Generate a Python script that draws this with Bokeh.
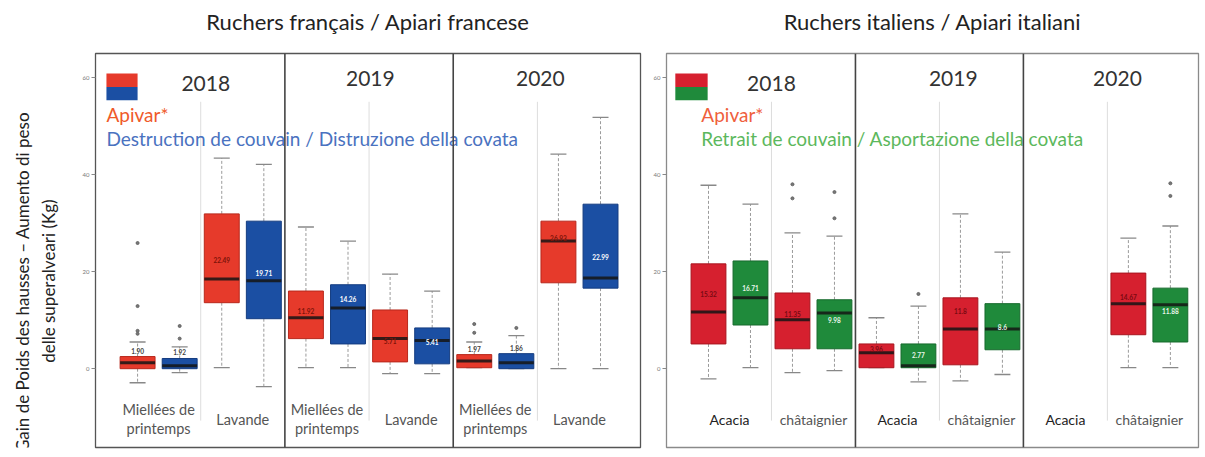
import math
from bokeh.plotting import figure
from bokeh.models import Range1d, Span, FixedTicker, ColumnDataSource, Title
from bokeh.layouts import row
from bokeh.core.properties import value
from bokeh.embed import file_html
from bokeh.resources import INLINE

FONT = value("Lato")

# ---------------- data ----------------
years = ["2018", "2019", "2020"]
fr_groups = ["Miellées de\nprintemps", "Lavande"]
it_groups = ["Acacia", "châtaignier"]
y_ticks = [0, 20, 40, 60]

# French apiaries: per year -> (spring: Apivar, brood destruction), (lavender: Apivar, brood destruction)
fr_q1 = [0.0, 0.0, 13.6, 10.3, 6.2, 5.1, 1.4, 1.0, 0.2, 0.0, 17.7, 16.6]
fr_med = [1.2, 0.6, 18.5, 18.1, 10.5, 12.5, 6.2, 5.8, 1.6, 1.2, 26.3, 18.7]
fr_q3 = [2.5, 2.1, 31.9, 30.4, 16.0, 17.3, 12.1, 8.4, 2.9, 3.1, 30.4, 33.9]
fr_lo = [-2.9, -0.8, 0.2, -3.7, 0.2, 0.2, -1.0, -1.0, 0.2, 0.0, 0.0, 0.0]
fr_hi = [5.5, 4.5, 43.4, 42.1, 29.2, 26.3, 19.5, 16.0, 5.5, 6.8, 44.2, 51.8]
fr_means = ["1.90", "1.92", "22.49", "19.71", "11.92", "14.26", "5.71", "5.41", "1.97", "1.86", "26.93", "22.99"]
fr_out_slot = [0, 0, 0, 0, 1, 1, 8, 8, 9]
fr_out_val = [7.2, 7.8, 12.9, 25.9, 6.2, 8.8, 7.4, 9.2, 8.4]

# Italian apiaries: per year -> (acacia: Apivar, brood removal), (chestnut: Apivar, brood removal)
nan = float("nan")
it_q1 = [5.1, 9.0, 4.1, 4.1, 0.2, 0.2, 0.8, 3.9, nan, nan, 7.0, 5.5]
it_med = [11.7, 14.6, 10.1, 11.5, 3.3, 0.6, 8.2, 8.2, nan, nan, 13.4, 13.2]
it_q3 = [21.6, 22.2, 15.6, 14.2, 5.1, 5.1, 14.6, 13.4, nan, nan, 19.7, 16.6]
it_lo = [-2.1, 0.2, -0.8, -0.4, 0.2, -2.7, -2.5, -1.2, nan, nan, 0.2, 0.2]
it_hi = [37.8, 33.9, 28.0, 27.3, 10.5, 12.9, 31.9, 24.0, nan, nan, 26.9, 29.4]
it_means = ["15.32", "16.71", "11.35", "9.98", "3.96", "2.77", "11.8", "8.6", "", "", "14.67", "11.88"]
it_out_slot = [2, 2, 3, 3, 5, 11, 11]
it_out_val = [38.0, 35.1, 36.4, 31.0, 15.4, 35.6, 38.2]

# ---------------- styles ----------------
FR_FILL = ["#e63a2b", "#1b4fa3"]
FR_LINE = ["#b8281c", "#143c80"]
FR_LABEL = ["#7d1309", "#ffffff"]
IT_FILL = ["#d6202f", "#1f8a3b"]
IT_LINE = ["#a8151f", "#166a2c"]
IT_LABEL = ["#7a0a12", "#e9f6ea"]

Y0, Y1 = -16.24, 64.95
H = 457


def base_fig(width, xr, title, border_left):
    p = figure(width=width, height=H, x_range=Range1d(*xr), y_range=Range1d(Y0, Y1),
               output_backend="svg", toolbar_location=None, x_axis_type=None,
               min_border_left=border_left, min_border_right=2, min_border_top=52,
               min_border_bottom=10)
    # thin spacer panel between frame and title, then the title above it
    p.add_layout(Title(text=" ", text_font_size="2px"), "above")
    p.add_layout(Title(text=title, align="center", text_font="Lato", text_font_size="22px",
                       text_font_style="normal", text_color="#222222"), "above")
    p.xgrid.visible = False
    p.ygrid.visible = False
    p.outline_line_color = "#555555"
    p.outline_line_width = 1.3
    ax = p.yaxis[0]
    ax.ticker = FixedTicker(ticks=y_ticks)
    ax.minor_tick_line_color = None
    ax.major_tick_in = 0
    ax.major_tick_out = 4
    ax.major_tick_line_color = "#888888"
    ax.axis_line_color = None
    ax.major_label_text_font_size = "6px"
    ax.major_label_text_color = "#777777"
    ax.major_label_standoff = 2
    ax.major_label_text_font = "Lato"
    return p


def draw_panel(p, q1, med, q3, lo, hi, means, fills, lines, labcols, out_slot, out_val,
               above_slots=()):
    xs, d = [], {k: [] for k in ["q1", "med", "q3", "lo", "hi", "fill", "line", "lab", "labcol"]}
    for i in range(len(q1)):
        if math.isnan(q1[i]):
            continue
        t = i % 2
        xs.append(i)
        d["q1"].append(q1[i]); d["med"].append(med[i]); d["q3"].append(q3[i])
        d["lo"].append(lo[i]); d["hi"].append(hi[i])
        d["fill"].append(fills[t]); d["line"].append(lines[t])
        d["lab"].append(means[i]); d["labcol"].append(labcols[t])
    src = ColumnDataSource(dict(x=xs, **d,
                                xl=[x - 0.415 for x in xs], xr=[x + 0.415 for x in xs],
                                cl=[x - 0.19 for x in xs], cr=[x + 0.19 for x in xs]))
    # whiskers
    p.segment(x0="x", y0="q3", x1="x", y1="hi", source=src, line_color="#9a9a9a",
              line_dash="3 2", line_width=1)
    p.segment(x0="x", y0="q1", x1="x", y1="lo", source=src, line_color="#9a9a9a",
              line_dash="3 2", line_width=1)
    p.segment(x0="cl", y0="hi", x1="cr", y1="hi", source=src, line_color="#888888", line_width=1.3)
    p.segment(x0="cl", y0="lo", x1="cr", y1="lo", source=src, line_color="#888888", line_width=1.3)
    # boxes
    p.vbar(x="x", width=0.83, bottom="q1", top="q3", source=src, fill_color="fill",
           line_color="line", line_width=1)
    p.segment(x0="xl", y0="med", x1="xr", y1="med", source=src, line_color="#151515",
              line_width=3, line_alpha=0.85)
    # outliers
    p.scatter(out_slot, out_val, marker="circle", size=3, fill_color="#777777",
              line_color="#666666")
    # labels
    inside = [k for k, x in enumerate(xs) if x not in above_slots and src.data["lab"][k]]
    above = [k for k, x in enumerate(xs) if x in above_slots]
    if inside:
        p.text(x=[xs[k] for k in inside], y=[float(src.data["lab"][k]) for k in inside],
               text=[src.data["lab"][k] for k in inside],
               text_color=[src.data["labcol"][k] for k in inside],
               text_font=FONT, text_font_size="6.5px", text_font_style="bold",
               text_align="center", text_baseline="middle")
    if above:
        p.text(x=[xs[k] for k in above], y=[src.data["q3"][k] for k in above],
               text=[src.data["lab"][k] for k in above], text_color="#444444",
               text_font=FONT, text_font_size="6.5px", text_font_style="bold",
               text_align="center", text_baseline="bottom", y_offset=-3)


def decorate(p, groups, group_colors, group_size, year_pos, flag_x, flag_cols, legend_x,
             legend_texts, legend_cols):
    # group separators (light) and year dividers
    p.segment(x0=[1.5, 5.5, 9.5], y0=-10.7, x1=[1.5, 5.5, 9.5], y1=55.0,
              line_color="#dddddd", line_width=1)
    for loc in (3.5, 7.5):
        p.add_layout(Span(location=loc, dimension="height", line_color="#444444",
                          line_width=1.6))
    # group labels under the boxes
    gx = [0.5 + 2 * k for k in range(6)]
    gl = [groups[k % 2] for k in range(6)]
    gc = [group_colors[k % 2] for k in range(6)]
    p.text(x=gx, y=-10.4, text=gl, text_color=gc, text_font=FONT, text_font_size=group_size,
           text_align="center", text_baseline="middle", text_line_height=1.1)
    # years
    p.text(x=[yp[0] for yp in year_pos], y=[yp[1] for yp in year_pos], text=years,
           text_color="#333333", text_font=FONT, text_font_size="21px",
           text_align="center", text_baseline="middle")
    # legend flag
    p.quad(left=flag_x[0], right=flag_x[1], top=60.84, bottom=58.07,
           fill_color=flag_cols[0], line_color=None)
    p.quad(left=flag_x[0], right=flag_x[1], top=58.07, bottom=55.3,
           fill_color=flag_cols[1], line_color=None)
    p.text(x=legend_x, y=[52.4, 47.4], text=legend_texts, text_color=legend_cols,
           text_font=FONT, text_font_size="19px", text_align="left", text_baseline="middle")


# ---------------- left: French apiaries ----------------
pl = base_fig(574, (-1.0, 11.95), "Ruchers français / Apiari francese", 27)
draw_panel(pl, fr_q1, fr_med, fr_q3, fr_lo, fr_hi, fr_means, FR_FILL, FR_LINE, FR_LABEL,
           fr_out_slot, fr_out_val, above_slots=(0, 1, 8, 9))
decorate(pl, fr_groups, ["#555555", "#555555"], "14.5px",
         [(1.62, 58.8), (5.53, 59.8), (9.57, 59.8)],
         (-0.74, 0.0), FR_FILL, [-0.74, -0.74],
         ["Apivar*", "Destruction de couvain / Distruzione della covata"],
         ["#ef5a2a", "#4a72c0"])

# ---------------- right: Italian apiaries ----------------
pr = base_fig(558, (-1.0, 11.67), "Ruchers italiens / Apiari italiani", 24)
pr.outline_line_color = "#8a8a8a"
draw_panel(pr, it_q1, it_med, it_q3, it_lo, it_hi, it_means, IT_FILL, IT_LINE, IT_LABEL,
           it_out_slot, it_out_val)
decorate(pr, it_groups, ["#222222", "#555555"], "14px",
         [(1.5, 58.8), (5.83, 59.8), (9.74, 59.8)],
         (-0.79, -0.02), IT_FILL, [-0.17, -0.17],
         ["Apivar*", "Retrait de couvain / Asportazione della covata"],
         ["#ef603c", "#5cb85c"])

# ---------------- shared y-axis title ----------------
pt = figure(width=68, height=H, x_range=Range1d(0, 68), y_range=Range1d(0, H),
            output_backend="svg", toolbar_location=None, x_axis_type=None, y_axis_type=None,
            min_border=0)
pt.outline_line_color = None
pt.xgrid.visible = False
pt.ygrid.visible = False
pt.text(x=[22, 48], y=[192, 193],
        text=["Gain de Poids des hausses \u2013 Aumento di peso", "delle superalveari (Kg)"],
        angle=math.pi / 2, text_font=FONT, text_font_size="17px", text_color="#222222",
        text_align="center", text_baseline="middle")

layout = row(pt, pl, pr, spacing=0)
open("out.html", "w").write(file_html(layout, INLINE))
